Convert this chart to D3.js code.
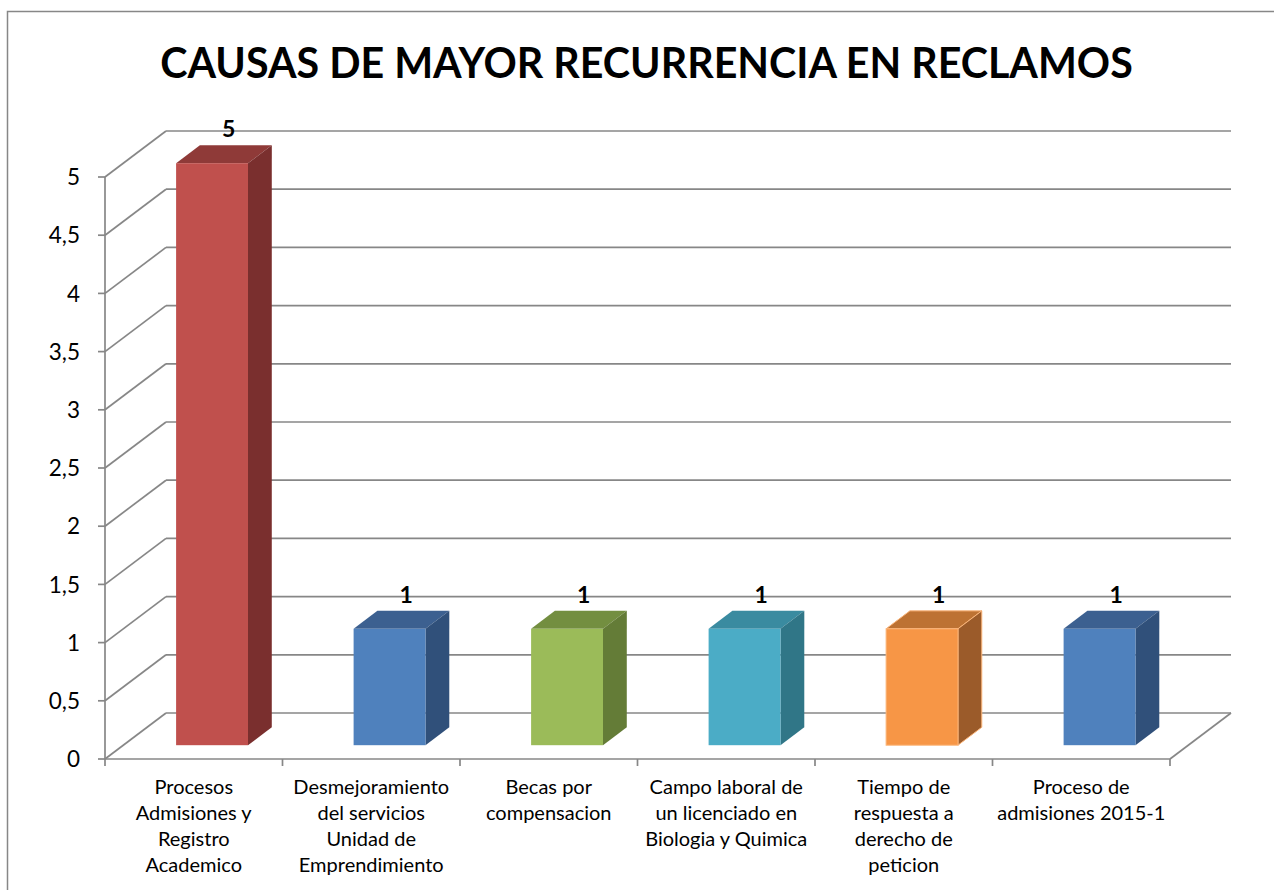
<!DOCTYPE html>
<html>
<head>
<meta charset="utf-8">
<script src="https://cdn.jsdelivr.net/npm/d3@7"></script>
<style>
    body { margin: 0; background: #fff; }
    svg { display: block; font-family: Lato, "Open Sans", sans-serif; }
</style>
</head>
<body>
<div id="chart"></div>
<script>
// Data
const categories = [
    "Procesos Admisiones y Registro Academico",
    "Desmejoramiento del servicios Unidad de Emprendimiento",
    "Becas por compensacion",
    "Campo laboral de un licenciado en Biologia y Quimica",
    "Tiempo de respuesta a derecho de peticion",
    "Proceso de admisiones 2015-1"
];
const categoryLines = [
    ["Procesos", "Admisiones y", "Registro", "Academico"],
    ["Desmejoramiento", "del servicios", "Unidad de", "Emprendimiento"],
    ["Becas por", "compensacion"],
    ["Campo laboral de", "un licenciado en", "Biologia y Quimica"],
    ["Tiempo de", "respuesta a", "derecho de", "peticion"],
    ["Proceso de", "admisiones 2015-1"]
];
const values = [5, 1, 1, 1, 1, 1];
const yTicks = [0, 0.5, 1, 1.5, 2, 2.5, 3, 3.5, 4, 4.5, 5];
const title = "CAUSAS DE MAYOR RECURRENCIA EN RECLAMOS";

// bar colours: front, top, side
const barColors = [
    ["#c0504d", "#8f3a38", "#7a2f2e"],
    ["#4f81bd", "#3c6090", "#30507a"],
    ["#9bbb59", "#738e40", "#647c37"],
    ["#4bacc6", "#3a8ba0", "#307687"],
    ["#f79646", "#bd7233", "#9b5b2a"],
    ["#4f81bd", "#3c6090", "#30507a"]
];

const width = 1274;
const height = 890;
const gridColor = "#878787";

// 3D depth offset of the plot box
const depthX = 61;
const depthY = -46;
const barZ0 = 0.3;     // bar front, fraction of depth
const barDepth = 0.39; // bar depth, fraction of depth

const svg = d3.select("#chart")
    .append("svg")
    .attr("width", width)
    .attr("height", height);

// Chart border
svg.append("rect")
    .attr("x", 7.5)
    .attr("y", 11.5)
    .attr("width", width)
    .attr("height", height)
    .attr("fill", "none")
    .attr("stroke", gridColor)
    .attr("stroke-width", 1.5);

// Scales (front plane)
const x = d3.scaleBand()
    .domain(categories)
    .range([105, 1170]);

const y = d3.scaleLinear()
    .domain([0, 5])
    .range([759, 177]);

// Title, fitted to the reference width
const titleText = svg.append("text")
    .attr("x", 646.5)
    .attr("y", 78)
    .attr("text-anchor", "middle")
    .attr("font-weight", "bold")
    .attr("font-size", 40)
    .attr("fill", "#000")
    .text(title);
const tw = titleText.node().getComputedTextLength();
titleText.attr("font-size", 40 * 973 / tw);

const grid = svg.append("g")
    .attr("stroke", gridColor)
    .attr("stroke-width", 1.7)
    .attr("fill", "none");

// Back wall gridlines and left wall diagonals
yTicks.forEach((t) => {
    const yf = y(t);
    grid.append("line")
        .attr("x1", x.range()[0] + depthX)
        .attr("x2", x.range()[1] + depthX)
        .attr("y1", yf + depthY)
        .attr("y2", yf + depthY);
    grid.append("line")
        .attr("x1", x.range()[0])
        .attr("y1", yf)
        .attr("x2", x.range()[0] + depthX)
        .attr("y2", yf + depthY);
});

// Floor right edge
grid.append("line")
    .attr("x1", x.range()[1])
    .attr("y1", y(0))
    .attr("x2", x.range()[1] + depthX)
    .attr("y2", y(0) + depthY);

// Y axis
const yAxis = svg.append("g");
yAxis.append("line")
    .attr("x1", x.range()[0])
    .attr("x2", x.range()[0])
    .attr("y1", y(5))
    .attr("y2", y(0))
    .attr("stroke", gridColor)
    .attr("stroke-width", 1.7);
yAxis.selectAll("g.tick")
    .data(yTicks)
    .enter()
    .append("g")
    .attr("class", "tick")
    .each(function (t) {
        const g = d3.select(this);
        g.append("line")
            .attr("x1", x.range()[0] - 7)
            .attr("x2", x.range()[0])
            .attr("y1", y(t))
            .attr("y2", y(t))
            .attr("stroke", gridColor)
            .attr("stroke-width", 1.7);
        g.append("text")
            .attr("x", 80)
            .attr("y", y(t))
            .attr("dy", "0.36em")
            .attr("text-anchor", "end")
            .attr("font-size", 22.5)
            .attr("fill", "#000")
            .text(String(t).replace(".", ","));
    });

// X axis
const xAxis = svg.append("g");
xAxis.append("line")
    .attr("x1", x.range()[0])
    .attr("x2", x.range()[1])
    .attr("y1", y(0))
    .attr("y2", y(0))
    .attr("stroke", gridColor)
    .attr("stroke-width", 1.7);
const bounds = categories.map((c) => x(c)).concat([x.range()[1]]);
xAxis.selectAll("line.tick")
    .data(bounds)
    .enter()
    .append("line")
    .attr("class", "tick")
    .attr("x1", (d) => d)
    .attr("x2", (d) => d)
    .attr("y1", y(0))
    .attr("y2", y(0) + 7)
    .attr("stroke", gridColor)
    .attr("stroke-width", 1.7);

categories.forEach((c, i) => {
    const t = xAxis.append("text")
        .attr("x", x(c) + x.bandwidth() / 2)
        .attr("y", 794)
        .attr("text-anchor", "middle")
        .attr("font-size", 20)
        .attr("fill", "#000");
    categoryLines[i].forEach((line, j) => {
        t.append("tspan")
            .attr("x", x(c) + x.bandwidth() / 2)
            .attr("dy", j === 0 ? 0 : 26)
            .text(line);
    });
});

// 3D bars
const faceW = x.bandwidth() * 0.405;
const bdx = depthX * barDepth;
const bdy = depthY * barDepth;

const bars = svg.selectAll("g.bar")
    .data(values)
    .enter()
    .append("g")
    .attr("class", "bar");

bars.each(function (v, i) {
    const g = d3.select(this);
    const cx = x(categories[i]) + x.bandwidth() / 2 + depthX * barZ0;
    const x0 = cx - faceW / 2;
    const x1 = cx + faceW / 2;
    const yt = y(v) + depthY * barZ0;
    const yb = y(0) + depthY * barZ0;
    const [front, top, side] = barColors[i];
    const outline = i === 4 ? "#fbb57a" : "none";

    g.append("polygon")
        .attr("points", [[x0, yt], [x1, yt], [x1 + bdx, yt + bdy], [x0 + bdx, yt + bdy]].join(" "))
        .attr("fill", top)
        .attr("stroke", outline);
    g.append("polygon")
        .attr("points", [[x1, yt], [x1 + bdx, yt + bdy], [x1 + bdx, yb + bdy], [x1, yb]].join(" "))
        .attr("fill", side)
        .attr("stroke", outline);
    g.append("rect")
        .attr("x", x0)
        .attr("y", yt)
        .attr("width", faceW)
        .attr("height", yb - yt)
        .attr("fill", front)
        .attr("stroke", outline);
});

// Value labels
svg.selectAll("text.value")
    .data(values)
    .enter()
    .append("text")
    .attr("class", "value")
    .attr("x", (d, i) => x(categories[i]) + x.bandwidth() / 2 + 35)
    .attr("y", (d) => y(d) + depthY + 6)
    .attr("text-anchor", "middle")
    .attr("font-weight", "bold")
    .attr("font-size", 23)
    .attr("fill", "#000")
    .text((d) => d);
</script>
</body>
</html>
